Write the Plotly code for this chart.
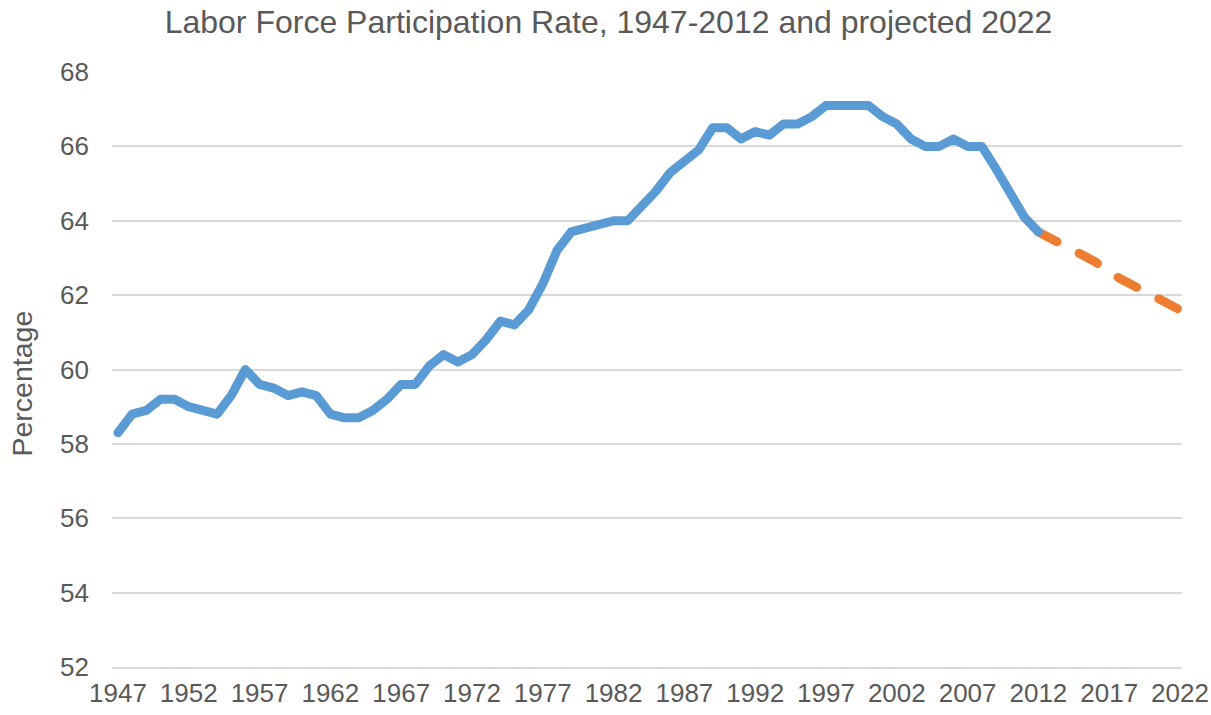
import plotly.graph_objects as go

years_hist = list(range(1947, 2013))
lfpr_hist = [58.3, 58.8, 58.9, 59.2, 59.2, 59.0, 58.9, 58.8, 59.3, 60.0,
             59.6, 59.5, 59.3, 59.4, 59.3, 58.8, 58.7, 58.7, 58.9, 59.2,
             59.6, 59.6, 60.1, 60.4, 60.2, 60.4, 60.8, 61.3, 61.2, 61.6,
             62.3, 63.2, 63.7, 63.8, 63.9, 64.0, 64.0, 64.4, 64.8, 65.3,
             65.6, 65.9, 66.5, 66.5, 66.2, 66.4, 66.3, 66.6, 66.6, 66.8,
             67.1, 67.1, 67.1, 67.1, 66.8, 66.6, 66.2, 66.0, 66.0, 66.2,
             66.0, 66.0, 65.4, 64.7, 64.1, 63.7]
years_proj = list(range(2012, 2023))
lfpr_proj = [63.7, 63.5, 63.3, 63.1, 62.9, 62.6, 62.4, 62.2, 62.0, 61.8, 61.6]

x_ticks = list(range(1947, 2023, 5))
y_ticks = list(range(52, 69, 2))

title_text = "Labor Force Participation Rate, 1947-2012 and projected 2022"
y_title = "Percentage"

FONT = "Liberation Sans, Arial, sans-serif"
GREY = "#595959"
GRID = "#D9D9D9"

fig = go.Figure()
fig.add_trace(go.Scatter(x=years_proj, y=lfpr_proj, mode="lines",
                         line=dict(color="#ED7D31", width=9, dash="21px,25px"),
                         showlegend=False, hoverinfo="skip"))
fig.add_trace(go.Scatter(x=years_hist, y=lfpr_hist, mode="lines",
                         line=dict(color="#5B9BD5", width=9),
                         showlegend=False, hoverinfo="skip"))

fig.update_layout(
    width=1211, height=715,
    margin=dict(l=112, r=29, t=72, b=48),
    paper_bgcolor="white", plot_bgcolor="white",
    font=dict(family=FONT, color=GREY),
    title=dict(text=title_text, x=0.5025, xanchor="center", y=1 - 22 / 715, yanchor="middle",
               font=dict(size=32, color=GREY, family=FONT)),
    xaxis=dict(range=[1946.58, 2022.14], tickmode="array", tickvals=x_ticks,
               ticktext=[str(v) for v in x_ticks], showgrid=False, zeroline=False,
               showline=True, linecolor=GRID, linewidth=1.5, ticks="",
               ticklabelstandoff=2, automargin=False,
               tickfont=dict(size=26, color=GREY, family=FONT)),
    yaxis=dict(range=[52, 68], tickmode="array", tickvals=y_ticks,
               ticktext=[str(v) for v in y_ticks], showgrid=True, gridcolor=GRID,
               gridwidth=1.5, zeroline=False, showline=False, ticks="",
               ticklabelstandoff=22, automargin=False,
               tickfont=dict(size=26, color=GREY, family=FONT)),
    annotations=[dict(text=y_title, textangle=-90, xref="paper", yref="paper",
                      x=(21 - 112) / 1070, y=(667 - 383.5) / 595,
                      xanchor="center", yanchor="middle", showarrow=False,
                      font=dict(size=28.5, color=GREY, family=FONT))],
)

post = """
document.body.style.margin = '0';
document.body.style.padding = '0';
var gd = document.getElementById('{plot_id}');
function roundify(){
  gd.querySelectorAll('.scatterlayer .js-line').forEach(function(p){
    p.style.strokeLinecap='round'; p.style.strokeLinejoin='round';
  });
}
roundify();
gd.on('plotly_afterplot', roundify);
setTimeout(roundify, 50);
"""
fig.write_html("out.html", post_script=post, config={"displayModeBar": False})
